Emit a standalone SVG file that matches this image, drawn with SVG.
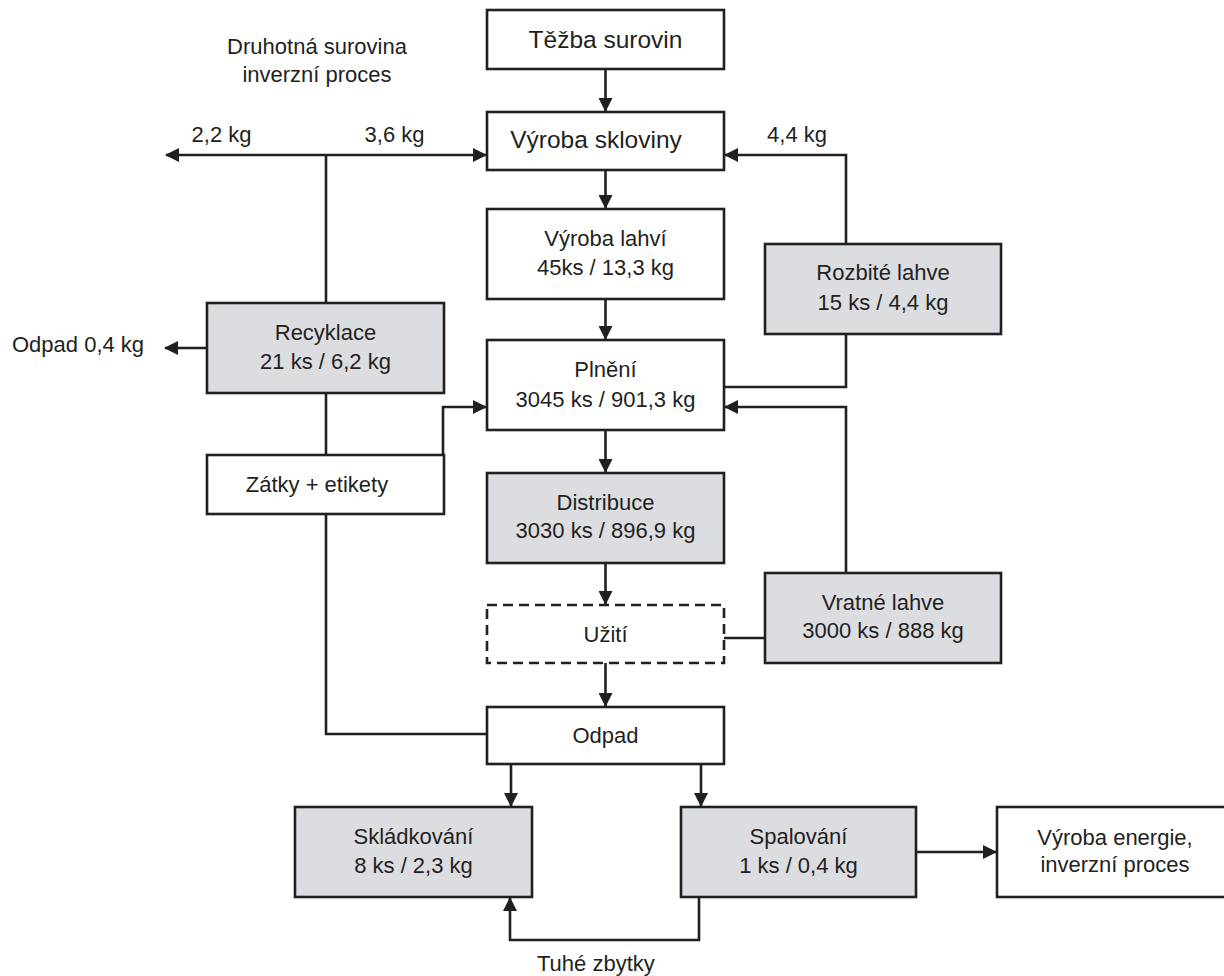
<svg xmlns="http://www.w3.org/2000/svg" width="1224" height="976" viewBox="0 0 1224 976">
<style>
  .box { fill: #ffffff; stroke: #231f20; stroke-width: 2.6; }
  .grey { fill: #dcdde0; stroke: #231f20; stroke-width: 2.6; }
  .dash { fill: #ffffff; stroke: #231f20; stroke-width: 2.6; stroke-dasharray: 10 6; }
  text { font-family: "Liberation Sans", Arial, sans-serif; font-size: 22px; fill: #231f20; text-anchor: middle; }
  .big { font-size: 24.5px; }
  .start { text-anchor: start; }
  .ln { fill: none; stroke: #231f20; stroke-width: 2.6; }
  .ar { fill: none; stroke: #231f20; stroke-width: 2.6; marker-end: url(#ah); }
</style>
<defs>
  <marker id="ah" viewBox="0 0 14 14" refX="13" refY="7" markerWidth="14" markerHeight="14" markerUnits="userSpaceOnUse" orient="auto">
    <path d="M0,0 L14,7 L0,14 Z" fill="#231f20"/>
  </marker>
</defs>

<g id="connectors">
  <line class="ar" x1="605.5" y1="69" x2="605.5" y2="111"/>
  <line class="ar" x1="605.5" y1="170" x2="605.5" y2="208"/>
  <line class="ar" x1="605.5" y1="299" x2="605.5" y2="339"/>
  <line class="ar" x1="605.5" y1="430" x2="605.5" y2="472"/>
  <line class="ar" x1="605.5" y1="563" x2="605.5" y2="604"/>
  <line class="ar" x1="605.5" y1="663" x2="605.5" y2="706"/>
  <polyline class="ar" points="846,244 846,155 725,155"/>
  <polyline class="ln" points="846,334 846,387 724,387"/>
  <polyline class="ar" points="846,573 846,407 725,407"/>
  <line class="ln" x1="724" y1="638" x2="765" y2="638"/>
  <line class="ln" x1="326" y1="303" x2="326" y2="155"/>
  <line class="ar" x1="326" y1="155" x2="166" y2="155"/>
  <line class="ar" x1="326" y1="155" x2="486" y2="155"/>
  <line class="ar" x1="207" y1="348" x2="165" y2="348"/>
  <line class="ln" x1="326" y1="393" x2="326" y2="455"/>
  <polyline class="ar" points="443,455 443,407 486,407"/>
  <polyline class="ln" points="326,514 326,734 487,734"/>
  <line class="ar" x1="511" y1="764" x2="511" y2="806"/>
  <line class="ar" x1="701" y1="764" x2="701" y2="806"/>
  <polyline class="ar" points="699,897 699,940 510,940 510,898"/>
  <line class="ar" x1="916" y1="852" x2="996" y2="852"/>
</g>

<g id="tezba">
  <rect class="box" x="487" y="10" width="237" height="59"/>
  <text class="big" x="605.5" y="48">Těžba surovin</text>
</g>
<g id="vyroba-skloviny">
  <rect class="box" x="487" y="112" width="237" height="58"/>
  <text class="big" x="596" y="148">Výroba skloviny</text>
</g>
<g id="vyroba-lahvi">
  <rect class="box" x="487" y="209" width="237" height="90"/>
  <text x="605.5" y="246">Výroba lahví</text>
  <text x="605.5" y="275">45ks / 13,3 kg</text>
</g>
<g id="plneni">
  <rect class="box" x="487" y="340" width="237" height="90"/>
  <text x="605.5" y="377">Plnění</text>
  <text x="605.5" y="407">3045 ks / 901,3 kg</text>
</g>
<g id="distribuce">
  <rect class="grey" x="487" y="473" width="237" height="90"/>
  <text x="605.5" y="510">Distribuce</text>
  <text x="605.5" y="538">3030 ks / 896,9 kg</text>
</g>
<g id="uziti">
  <rect class="dash" x="487" y="605" width="237" height="58"/>
  <text x="605.5" y="642">Užití</text>
</g>
<g id="odpad">
  <rect class="box" x="487" y="707" width="237" height="57"/>
  <text x="605.5" y="743">Odpad</text>
</g>
<g id="rozbite">
  <rect class="grey" x="765" y="244" width="236" height="90"/>
  <text x="883" y="280">Rozbité lahve</text>
  <text x="883" y="310">15 ks / 4,4 kg</text>
</g>
<g id="vratne">
  <rect class="grey" x="765" y="573" width="236" height="90"/>
  <text x="883" y="610">Vratné lahve</text>
  <text x="883" y="638">3000 ks / 888 kg</text>
</g>
<g id="recyklace">
  <rect class="grey" x="207" y="303" width="237" height="90"/>
  <text x="325.5" y="340">Recyklace</text>
  <text x="325.5" y="369">21 ks / 6,2 kg</text>
</g>
<g id="zatky">
  <rect class="box" x="207" y="455" width="237" height="59"/>
  <text x="317" y="492">Zátky + etikety</text>
</g>
<g id="skladkovani">
  <rect class="grey" x="295" y="807" width="237" height="90"/>
  <text x="413.5" y="844">Skládkování</text>
  <text x="413.5" y="873">8 ks / 2,3 kg</text>
</g>
<g id="spalovani">
  <rect class="grey" x="681" y="807" width="235" height="90"/>
  <text x="798.5" y="844">Spalování</text>
  <text x="798.5" y="873">1 ks / 0,4 kg</text>
</g>
<g id="vyroba-energie">
  <rect class="box" x="997" y="807" width="237" height="90"/>
  <text x="1115" y="845">Výroba energie,</text>
  <text x="1115" y="872">inverzní proces</text>
</g>

<g id="labels">
  <text x="317" y="54">Druhotná surovina</text>
  <text x="317" y="82">inverzní proces</text>
  <text x="221.5" y="142">2,2 kg</text>
  <text x="394.5" y="142">3,6 kg</text>
  <text x="797" y="142">4,4 kg</text>
  <text class="start" x="12" y="352">Odpad 0,4 kg</text>
  <text class="start" x="537" y="971">Tuhé zbytky</text>
</g>
</svg>
